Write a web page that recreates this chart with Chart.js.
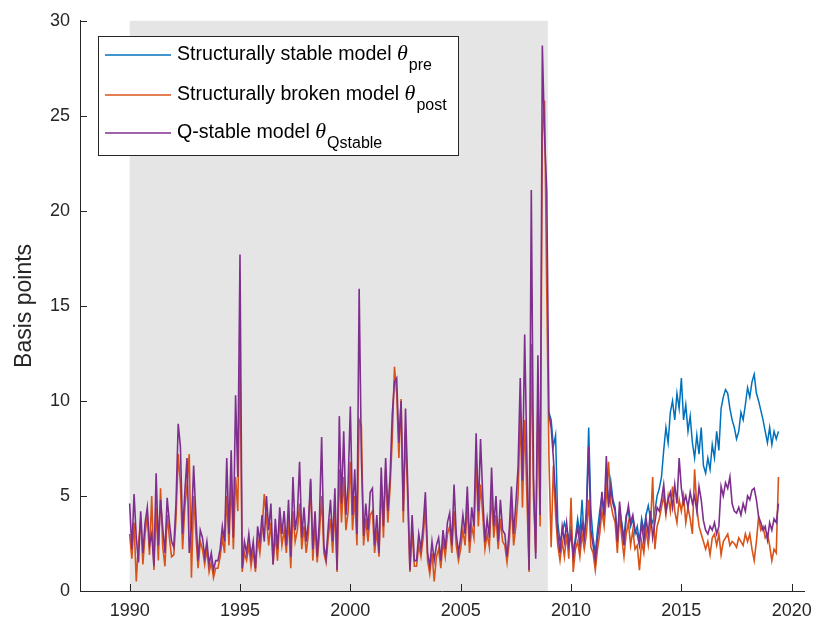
<!DOCTYPE html>
<html>
<head>
<meta charset="utf-8">
<script src="https://cdn.jsdelivr.net/npm/chart.js@4.4.0/dist/chart.umd.min.js"></script>
<style>
  body { margin: 0; background: #fff; }
  canvas { display: block; }
</style>
</head>
<body>
<canvas id="chartTheta" width="821" height="633"></canvas>
<script>
// sampled every 0.1 year starting 1990.0
const startYear = 1990;
const stepYear = 0.1;

const purpleVals = [
  4.6, 2.2, 5.1, 2.8, 1.5, 4.2, 2.0, 3.6, 4.4, 2.4,
  3.0, 1.3, 6.2, 2.4, 4.8, 3.3, 2.0, 4.9, 3.6, 2.6,
  2.3, 4.6, 8.8, 7.6, 3.0, 5.2, 7.0, 2.0, 3.4, 6.6,
  4.0, 1.6, 3.2, 2.8, 1.8, 2.6, 1.4, 2.0, 1.1, 1.6,
  1.6, 2.2, 3.4, 2.6, 7.0, 3.0, 7.4, 2.8, 10.3, 6.0,
  17.7, 1.2, 2.6, 2.0, 3.0, 1.8, 2.6, 1.2, 3.4, 2.6,
  4.0, 2.6, 5.0, 3.2, 4.6, 1.4, 3.8, 2.2, 4.4, 3.0,
  4.2, 2.4, 4.8, 1.8, 6.0, 3.2, 4.0, 6.8, 2.8, 4.4,
  2.6, 3.6, 5.9, 2.2, 4.2, 1.8, 3.8, 8.1, 2.4, 1.7,
  3.4, 4.8, 2.6, 5.4, 1.1, 9.2, 4.6, 8.4, 4.0, 5.6,
  9.7, 4.0, 6.4, 3.0, 15.9, 7.0, 2.9, 4.6, 3.2, 5.2,
  5.4, 2.4, 4.0, 2.0, 6.5, 3.4, 7.0, 4.2, 6.0, 9.3,
  11.0, 11.2, 7.8, 10.0, 4.2, 9.6, 5.6, 1.1, 4.0, 1.6,
  1.6, 3.0, 2.2, 3.4, 5.2, 2.0, 1.3, 2.6, 1.6, 2.4,
  2.8, 1.6, 3.2, 2.2, 3.6, 4.1, 2.4, 5.6, 3.0, 2.0,
  2.8, 4.0, 3.0, 5.5, 2.6, 4.4, 3.4, 8.3, 4.2, 8.0,
  5.0, 2.6, 3.8, 2.8, 6.5, 3.4, 5.0, 2.6, 4.8, 3.2,
  3.0, 1.8, 3.2, 5.5, 3.0, 4.6, 6.5, 11.2, 5.8, 13.5,
  7.0, 1.1, 21.1, 6.0, 1.7, 12.4, 4.0, 28.7, 24.0, 21.0,
  9.3, 8.6, 7.0, 5.0, 3.0, 2.0, 3.4, 2.6, 3.6, 2.4,
  3.0, 1.8, 2.6, 3.4, 2.4, 3.6, 2.8, 4.0, 7.6, 3.2,
  2.4, 1.6, 2.8, 3.6, 5.2, 4.0, 7.1, 4.4, 5.4, 4.6,
  4.2, 2.6, 4.7, 3.4, 2.4, 3.8, 4.5, 3.6, 4.0, 3.2,
  3.0, 2.4, 3.6, 2.6, 3.8, 3.0, 4.2, 2.8, 3.6, 4.4,
  4.2, 4.8, 5.6, 4.2, 4.8, 5.2, 4.4, 5.6, 4.6, 7.0,
  5.4, 4.6, 5.0, 4.4, 5.2, 4.6, 5.0, 4.2, 5.5, 4.8,
  3.7, 3.2, 3.0, 3.4, 3.2, 3.6, 3.0, 3.4, 5.5, 5.0,
  5.7, 5.4, 6.0, 4.6, 4.2, 4.1, 4.4, 4.0, 4.6, 4.2,
  5.0, 4.8, 5.3, 5.4, 4.8, 3.9, 3.6, 3.2, 3.4, 2.7,
  3.6, 3.2, 3.8, 3.6, 4.6
];

const orangeVals = [
  3.0, 1.7, 3.6, 0.5, 2.5, 3.8, 1.4, 3.0, 4.0, 1.9,
  5.0, 1.1, 4.4, 1.6, 5.4, 2.3, 1.3, 4.0, 2.8, 1.8,
  1.9, 3.8, 7.2, 5.6, 2.2, 4.4, 5.6, 7.2, 0.7, 5.0,
  3.0, 1.2, 2.6, 2.2, 1.4, 2.2, 1.0, 1.5, 0.7, 1.2,
  1.2, 1.8, 2.8, 2.0, 5.0, 2.4, 5.8, 2.2, 6.0, 4.2,
  12.5, 1.0, 2.0, 1.6, 2.4, 1.3, 2.1, 1.0, 2.8, 2.0,
  3.2, 5.1, 3.8, 2.4, 3.6, 1.4, 3.0, 1.6, 3.8, 2.4,
  3.2, 2.0, 3.8, 1.2, 4.2, 2.6, 3.2, 4.6, 2.2, 3.4,
  2.0, 3.0, 5.8, 1.6, 3.4, 1.5, 3.0, 5.0, 2.0, 1.5,
  2.8, 3.8, 2.0, 4.4, 1.0, 6.4, 3.6, 6.0, 3.2, 4.2,
  6.8, 3.2, 5.0, 2.4, 9.0, 8.7, 2.4, 3.8, 2.6, 4.0,
  4.2, 2.0, 3.2, 1.8, 5.6, 2.8, 6.4, 3.6, 5.4, 8.0,
  11.8, 10.4, 7.0, 10.1, 3.6, 8.4, 4.8, 1.0, 3.2, 1.3,
  1.3, 2.4, 1.8, 2.8, 4.4, 1.6, 0.9, 2.0, 0.5, 1.8,
  2.2, 1.2, 2.6, 1.8, 3.0, 3.4, 2.0, 4.2, 2.4, 1.6,
  2.2, 3.2, 2.4, 4.6, 2.0, 3.4, 2.8, 6.8, 3.4, 5.6,
  4.0, 2.2, 3.0, 2.3, 5.2, 2.8, 4.0, 2.2, 3.8, 2.6,
  2.4, 1.5, 2.6, 4.6, 2.4, 3.4, 5.0, 9.4, 4.4, 9.0,
  5.0, 1.0, 13.0, 5.0, 2.0, 10.0, 3.4, 24.0, 25.8, 15.8,
  7.0, 2.3, 6.6, 4.0, 2.4, 1.6, 2.6, 1.8, 3.0, 1.7,
  4.9, 1.0, 2.2, 2.6, 1.8, 3.0, 2.2, 3.0, 4.8, 2.3,
  2.0, 1.1, 2.2, 3.0, 4.2, 3.4, 5.0, 6.8, 4.6, 4.0,
  3.6, 2.0, 4.0, 2.8, 1.8, 3.0, 3.6, 2.4, 3.2, 2.2,
  2.4, 1.1, 2.6, 2.0, 3.2, 2.4, 3.4, 6.0, 2.2, 3.4,
  3.8, 4.4, 5.0, 4.0, 5.0, 4.2, 5.5, 4.2, 3.6, 4.8,
  4.2, 5.0, 3.6, 4.4, 3.8, 3.0, 6.4, 4.4, 3.4, 3.0,
  2.6, 2.2, 2.6, 1.9, 2.8, 3.0, 2.4, 3.0, 1.9, 2.6,
  2.8, 3.0, 2.4, 2.6, 2.5, 2.3, 2.8, 2.6, 2.4, 3.0,
  2.6, 3.0, 2.2, 1.6, 2.6, 3.9, 3.2, 3.4, 2.8, 3.0,
  2.4, 1.6, 2.2, 2.0, 6.0
];

// blue only separates from the others after the break
const blueStartYear = 2009;
const blueVals = [
  9.4, 9.0, 7.6, 8.2, 3.6, 2.6, 3.0, 3.6, 3.2, 2.8,
  3.4, 2.0, 2.8, 3.8, 3.0, 4.8, 2.6, 4.4, 8.6, 4.2,
  2.8, 2.0, 3.2, 4.2, 5.0, 3.8, 6.0, 4.6, 5.8, 4.8,
  4.4, 2.8, 4.2, 3.6, 2.8, 4.0, 4.2, 3.4, 3.8, 3.0,
  3.4, 2.6, 3.8, 3.2, 4.0, 4.5, 3.8, 3.6, 4.2, 5.0,
  5.4, 6.0, 7.4, 8.6, 7.8, 9.4, 10.0, 9.0, 10.4, 9.6,
  11.2, 9.0, 9.8, 8.4, 9.2, 7.8, 7.0, 8.2, 7.2, 8.6,
  6.6, 6.2, 7.0, 6.4, 7.7, 7.0, 8.4, 7.4, 9.6, 10.2,
  10.6, 10.4, 9.6, 9.0, 8.6, 8.0, 8.4, 9.4, 9.0, 9.8,
  10.7, 10.2, 11.0, 11.4, 10.4, 10.0, 9.5, 9.0, 8.4, 7.8,
  8.6, 7.7, 8.4, 8.0, 8.4
];

const shadedPeriod = [1990, 2008.95];
const xTicks = [1990, 1995, 2000, 2005, 2010, 2015, 2020];
const legendLabels = [
  ['Structurally stable model ', 'pre'],
  ['Structurally broken model ', 'post'],
  ['Q-stable model ', 'Qstable']
];
const lineColors = ['#0072BD', '#D95319', '#7E2F8E'];

function toPoints(first, vals) {
  return vals.map(function (v, i) {
    return { x: Math.round((first + i * stepYear) * 100) / 100, y: v };
  });
}

const matlabBits = {
  id: 'matlabBits',
  beforeDatasetsDraw: function (chart) {
    const ctx = chart.ctx;
    const xs = chart.scales.x, ys = chart.scales.y;
    const x0 = xs.getPixelForValue(shadedPeriod[0]);
    const x1 = xs.getPixelForValue(shadedPeriod[1]);
    const yTop = ys.getPixelForValue(30), yBot = ys.getPixelForValue(0);
    ctx.save();
    ctx.fillStyle = '#e5e5e5';
    ctx.fillRect(x0, yTop, x1 - x0, yBot - yTop);
    ctx.restore();
  },
  afterDatasetsDraw: function (chart) {
    const ctx = chart.ctx;
    const xs = chart.scales.x, ys = chart.scales.y;
    const area = chart.chartArea;
    ctx.save();
    ctx.strokeStyle = '#262626';
    ctx.lineWidth = 1;
    ctx.beginPath();
    xTicks.forEach(function (t) {
      const px = Math.round(xs.getPixelForValue(t)) + 0.5;
      ctx.moveTo(px, area.bottom);
      ctx.lineTo(px, area.bottom - 7);
    });
    ys.ticks.forEach(function (t) {
      const py = Math.round(ys.getPixelForValue(t.value)) + 0.5;
      ctx.moveTo(area.left, py);
      ctx.lineTo(area.left + 7, py);
    });
    ctx.stroke();

    // legend box
    const bx = 98, by = 36, bw = 360, bh = 119;
    ctx.fillStyle = '#ffffff';
    ctx.fillRect(bx, by, bw, bh);
    ctx.strokeStyle = '#262626';
    ctx.strokeRect(bx + 0.5, by + 0.5, bw, bh);
    const rows = [55, 95, 133];
    legendLabels.forEach(function (lab, i) {
      const y = rows[i];
      ctx.strokeStyle = lineColors[i];
      ctx.lineWidth = 1.6;
      ctx.beginPath();
      ctx.moveTo(105, y);
      ctx.lineTo(171, y);
      ctx.stroke();
      ctx.fillStyle = '#000000';
      ctx.textBaseline = 'middle';
      ctx.font = '19.6px "Liberation Sans", Arial, sans-serif';
      ctx.fillText(lab[0], 177, y);
      let x = 177 + ctx.measureText(lab[0]).width;
      ctx.font = 'italic 22px "Liberation Serif", "Times New Roman", serif';
      ctx.fillText('\u03b8', x, y - 1);
      x += ctx.measureText('\u03b8').width + 1;
      ctx.font = '16px "Liberation Sans", Arial, sans-serif';
      ctx.fillText(lab[1], x, y + 11);
    });
    ctx.restore();
  }
};

const ctx = document.getElementById('chartTheta').getContext('2d');

const myChart = new Chart(ctx, {
  type: 'line',
  data: {
    datasets: [
      {
        label: 'Q-stable model',
        data: toPoints(startYear, purpleVals),
        borderColor: lineColors[2],
        borderWidth: 1.6,
        pointRadius: 0,
        fill: false
      },
      {
        label: 'Structurally broken model',
        data: toPoints(startYear, orangeVals),
        borderColor: lineColors[1],
        borderWidth: 1.6,
        pointRadius: 0,
        fill: false
      },
      {
        label: 'Structurally stable model',
        data: toPoints(blueStartYear, blueVals),
        borderColor: lineColors[0],
        borderWidth: 1.5,
        pointRadius: 0,
        fill: false
      }
    ]
  },
  options: {
    responsive: false,
    animation: false,
    events: [],
    layout: { padding: { top: 18, right: 15, left: 0, bottom: 0 } },
    plugins: {
      legend: { display: false },
      tooltip: { enabled: false }
    },
    scales: {
      x: {
        type: 'linear',
        min: 1987.75,
        max: 2020.6,
        afterBuildTicks: function (axis) {
          axis.ticks = xTicks.map(function (v) { return { value: v }; });
        },
        afterFit: function (axis) { axis.height = 42; },
        grid: { display: true, drawOnChartArea: false, drawTicks: false },
        border: { display: true, color: '#262626', width: 1 },
        ticks: {
          padding: 9,
          maxRotation: 0,
          color: '#262626',
          font: { family: '"Liberation Sans", Arial, sans-serif', size: 18 },
          callback: function (v) { return String(v); }
        }
      },
      y: {
        min: 0,
        max: 30,
        afterFit: function (axis) { axis.width = 80; },
        grid: { display: true, drawOnChartArea: false, drawTicks: false },
        border: { display: true, color: '#262626', width: 1 },
        ticks: {
          stepSize: 5,
          padding: 10,
          color: '#262626',
          font: { family: '"Liberation Sans", Arial, sans-serif', size: 18 }
        },
        title: {
          display: true,
          text: 'Basis points',
          color: '#262626',
          padding: { top: 11, bottom: 0 },
          font: { family: '"Liberation Sans", Arial, sans-serif', size: 23 }
        }
      }
    }
  },
  plugins: [matlabBits]
});
</script>
</body>
</html>
